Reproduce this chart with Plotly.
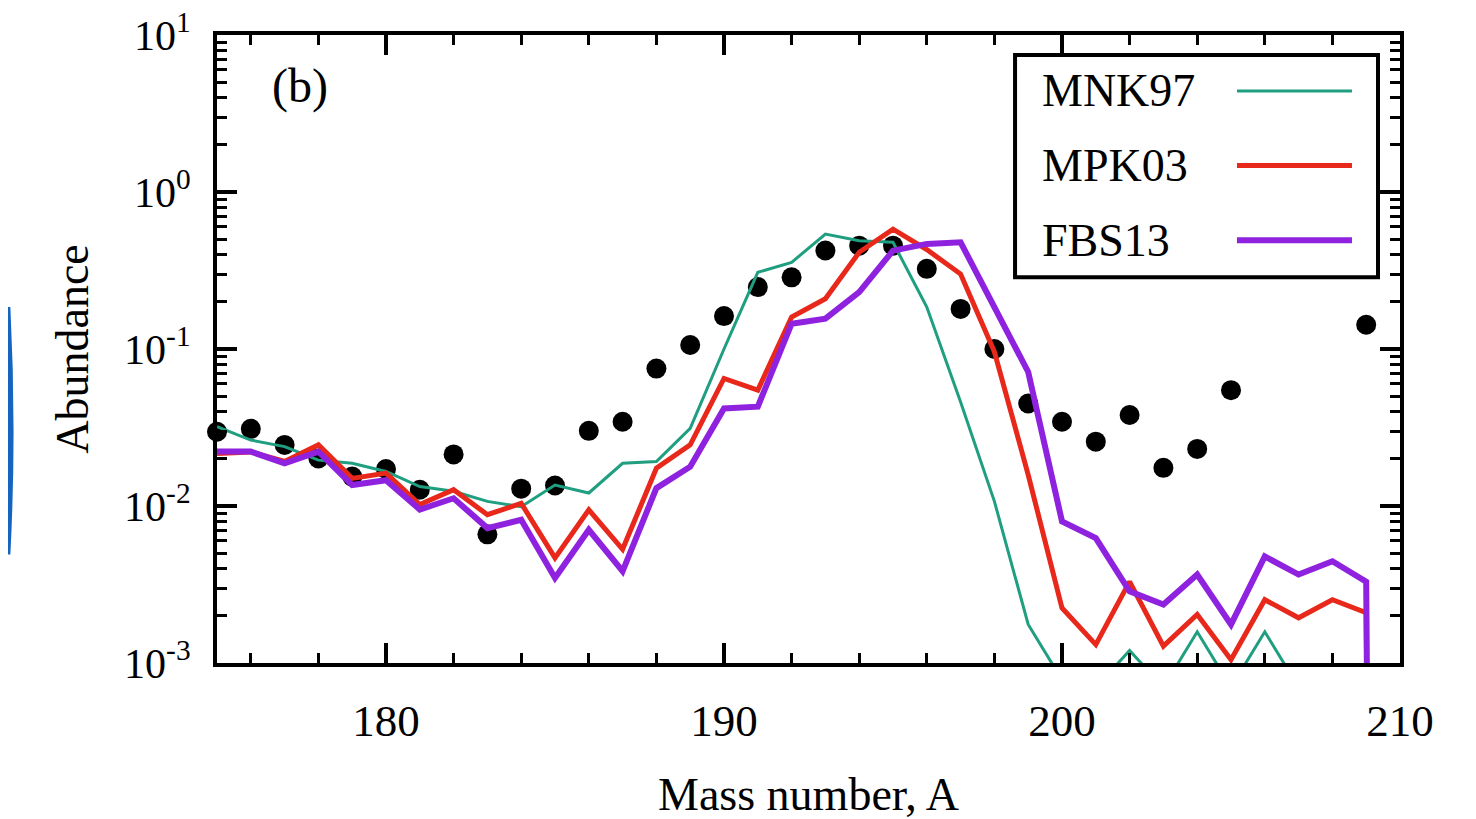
import plotly.graph_objects as go

# ---- data ----
mass_A = list(range(175, 211))

obs_A = [175, 176, 177, 178, 179, 180, 181, 182, 183, 184, 185, 186, 187, 188, 189,
         190, 191, 192, 193, 194, 195, 196, 197, 198, 199, 200, 201, 202, 203, 204, 205, 209]
obs_Y = [0.0297, 0.031, 0.0245, 0.0201, 0.0154, 0.0172, 0.0127, 0.0213, 0.0066, 0.0129,
         0.0135, 0.0301, 0.0344, 0.075, 0.106, 0.162, 0.248, 0.286, 0.424, 0.455, 0.455,
         0.324, 0.18, 0.100, 0.045, 0.0344, 0.0257, 0.038, 0.0175, 0.0231, 0.0547, 0.1426]

mnk97 = [0.032, 0.0263, 0.0239, 0.0196, 0.0187, 0.0166, 0.0133, 0.0124, 0.0107, 0.0099,
         0.0136, 0.0121, 0.0187, 0.0192, 0.0312, 0.100, 0.308, 0.356, 0.54, 0.49,
         0.478, 0.185, 0.046, 0.0107, 0.00176, 0.00078, 0.0007, 0.0012, 0.0007, 0.00158,
         0.0007, 0.00158, 0.0007, 0.0006, 0.0006, 1e-30]

mpk03 = [0.0216, 0.0221, 0.0192, 0.0245, 0.0150, 0.0162, 0.0102, 0.0127, 0.0088, 0.0104,
         0.00467, 0.00946, 0.0053, 0.0174, 0.0245, 0.0649, 0.0547, 0.160, 0.209, 0.413,
         0.58, 0.43, 0.30, 0.096, 0.0158, 0.00224, 0.00131, 0.0033, 0.00128, 0.00204,
         0.00105, 0.00253, 0.00194, 0.00253, 0.00209, 1e-30]

fbs13 = [0.0222, 0.0222, 0.0187, 0.0222, 0.0136, 0.0146, 0.0095, 0.0112, 0.00723, 0.00817,
         0.00348, 0.00706, 0.00384, 0.0130, 0.0178, 0.0418, 0.0429, 0.145, 0.156, 0.230,
         0.423, 0.467, 0.478, 0.189, 0.0714, 0.00798, 0.00625, 0.00286, 0.00236, 0.00366,
         0.00176, 0.00477, 0.00366, 0.00445, 0.0033, 1e-30]

series_names = ["MNK97", "MPK03", "FBS13"]
series_colors = ["#1f9e80", "#e8281a", "#8f22de"]
series_widths = [3, 5, 6]

x_tickvals = [180, 190, 200, 210]
x_ticktext = ["180", "190", "200", "210"]
x_minor = [176, 178, 182, 184, 186, 188, 192, 194, 196, 198, 202, 204, 206, 208]

y_tickvals = [1e-3, 1e-2, 1e-1, 1e0, 1e1]
y_ticktext = ["10<sup>-3</sup>", "10<sup>-2</sup>", "10<sup>-1</sup>",
              "10<sup>0</sup>", "10<sup>1</sup>"]
y_minor = [m * 10.0 ** e for e in (-3, -2, -1, 0) for m in range(2, 10)]

FONT = "Liberation Serif, Times New Roman, serif"

fig = go.Figure()

fig.add_trace(go.Scatter(
    x=obs_A, y=obs_Y, mode="markers", name="Observed",
    marker=dict(color="black", size=20, line=dict(width=0)),
    cliponaxis=False, showlegend=False))

for name, ys, col, w in [(series_names[0], mnk97, series_colors[0], series_widths[0]),
                         (series_names[1], mpk03, series_colors[1], series_widths[1]),
                         (series_names[2], fbs13, series_colors[2], series_widths[2])]:
    fig.add_trace(go.Scatter(
        x=mass_A, y=ys, mode="lines", name=name,
        line=dict(color=col, width=w), showlegend=False))

# ---- custom legend box (text left, sample line right) ----
shapes = [dict(type="rect", xref="paper", yref="paper",
               x0=0.6746, x1=0.9814, y0=0.6143, y1=0.9683,
               line=dict(color="black", width=4), fillcolor="white", layer="above")]
annotations = []
rows_y = [0.911, 0.792, 0.673]
for name, col, w, yy in zip(series_names, series_colors, series_widths, rows_y):
    annotations.append(dict(xref="paper", yref="paper", x=0.6957, y=yy, text=name,
                            showarrow=False, xanchor="left", yanchor="middle",
                            font=dict(family=FONT, size=46, color="black")))
    shapes.append(dict(type="line", xref="paper", yref="paper",
                       x0=0.8622, x1=0.9594, y0=yy, y1=yy,
                       line=dict(color=col, width=w), layer="above"))

annotations.append(dict(xref="paper", yref="paper", x=0.0702, y=0.919, text="(b)",
                        showarrow=False, xanchor="center", yanchor="middle",
                        font=dict(family=FONT, size=48, color="black")))

# blue edge artifact at far left
shapes.append(dict(type="path", xref="paper", yref="paper",
                   path="M -0.1772,0.5667 Q -0.1718,0.368 -0.1772,0.1730",
                   line=dict(color="#1565c0", width=6)))

fig.update_layout(
    width=1476, height=819,
    margin=dict(l=209, r=84, t=27, b=164, autoexpand=False),
    plot_bgcolor="white", paper_bgcolor="white",
    font=dict(family=FONT, size=45, color="black"),
    shapes=shapes, annotations=annotations, showlegend=False,
    xaxis=dict(range=[175, 210], tickmode="array", tickvals=x_tickvals, ticktext=x_ticktext,
               ticks="inside", ticklen=20, tickwidth=4, tickcolor="black",
               showline=True, linewidth=4, linecolor="black", mirror="ticks",
               showgrid=False, zeroline=False, ticklabelstandoff=15, automargin=False,
               ticklabeloverflow="allow",
               minor=dict(tickvals=x_minor, ticks="inside", ticklen=10, tickwidth=3,
                          tickcolor="black", showgrid=False),
               title=dict(text="Mass number, A", font=dict(family=FONT, size=46), standoff=34),
               tickfont=dict(family=FONT, size=45)),
    yaxis=dict(type="log", range=[-3, 1], tickmode="array", tickvals=y_tickvals,
               ticktext=y_ticktext,
               ticks="inside", ticklen=20, tickwidth=4, tickcolor="black",
               showline=True, linewidth=4, linecolor="black", mirror="ticks",
               showgrid=False, zeroline=False, ticklabelstandoff=14, automargin=False,
               ticklabeloverflow="allow",
               minor=dict(tickvals=y_minor, ticks="inside", ticklen=10, tickwidth=3,
                          tickcolor="black", showgrid=False),
               title=dict(text="Abundance", font=dict(family=FONT, size=46), standoff=22),
               tickfont=dict(family=FONT, size=42)),
)

fig.write_html("out.html")
